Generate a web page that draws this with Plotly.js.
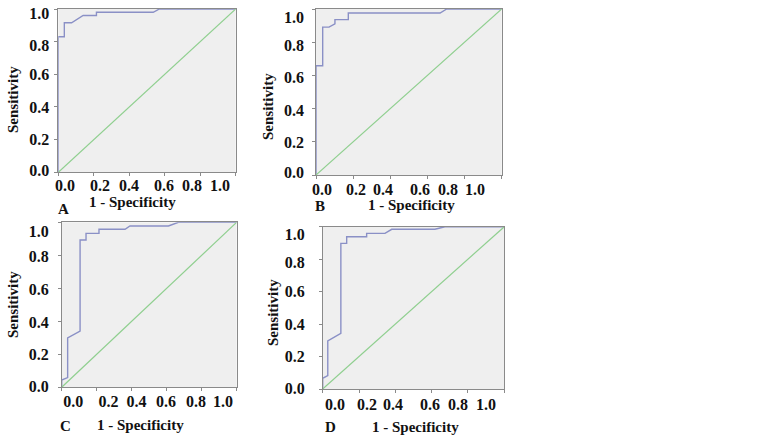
<!DOCTYPE html>
<html><head><meta charset="utf-8">
<script src="https://cdn.plot.ly/plotly-3.0.1.min.js"></script>
<style>html,body{margin:0;padding:0;background:#fff}#chart{width:763px;height:439px}</style>
</head><body><div id="chart"></div>
<script>
// ---- data ----
const tickLabels = ["0.0", "0.2", "0.4", "0.6", "0.8", "1.0"];
const tickValues = [0, 0.2, 0.4, 0.6, 0.8, 1.0];
const panelNames = ["A", "B", "C", "D"];
const xTitle = "1 - Specificity";
const yTitle = "Sensitivity";
const refX = [0, 1];
const refY = [0, 1];
const fprA = [0, 0, 0.034, 0.034, 0.075, 0.14, 0.215, 0.215, 0.535, 0.57, 1];
const tprA = [0, 0.83, 0.83, 0.916, 0.916, 0.96, 0.96, 0.98, 0.98, 1, 1];
const fprB = [0, 0, 0.036, 0.036, 0.07, 0.102, 0.102, 0.174, 0.174, 0.668, 0.704, 1];
const tprB = [0, 0.658, 0.658, 0.891, 0.891, 0.911, 0.936, 0.936, 0.976, 0.976, 1, 1];
const fprC = [0, 0, 0.034, 0.034, 0.105, 0.105, 0.139, 0.139, 0.213, 0.213, 0.362, 0.39, 0.61, 0.667, 1];
const tprC = [0, 0.044, 0.059, 0.30, 0.341, 0.893, 0.893, 0.933, 0.933, 0.958, 0.958, 0.978, 0.978, 1, 1];
const fprD = [0, 0, 0.028, 0.028, 0.1, 0.1, 0.132, 0.132, 0.242, 0.242, 0.343, 0.38, 0.618, 0.673, 1];
const tprD = [0, 0.066, 0.082, 0.296, 0.343, 0.897, 0.897, 0.938, 0.938, 0.959, 0.959, 0.984, 0.984, 1, 1];
const curves = [[fprA, tprA], [fprB, tprB], [fprC, tprC], [fprD, tprD]];

// ---- layout configuration (pixel geometry of the picture) ----
const W = 763, H = 439;
const boxes = [[58.3, 235.7, 9, 172.3], [316, 501.7, 9, 175], [61.7, 236.7, 222.3, 387.3], [322.7, 504.3, 226.7, 389]];
// where the printed tick labels sit along each axis (fraction of the axis), in label order 0.0 ... 1.0
const xLabelPos = [[0.038, 0.235, 0.398, 0.596, 0.754, 0.912], [0.032, 0.215, 0.361, 0.56, 0.711, 0.856],
                   [0.066, 0.267, 0.427, 0.596, 0.767, 0.922], [0.068, 0.244, 0.387, 0.591, 0.745, 0.899]];
const yLabelPos = [[0.014, 0.204, 0.40, 0.602, 0.78, 0.975], [0.018, 0.199, 0.392, 0.59, 0.783, 0.952],
                   [0.004, 0.202, 0.396, 0.596, 0.792, 0.943], [0.006, 0.199, 0.40, 0.6, 0.783, 0.955]];
const yStandoff = [8, 11, 12, 17];
const xStandoff = [2, 3, 3, 4];
const yTitlePos = [[13, 100], [268, 107], [13, 305], [273, 313]];
const xTitlePos = [[132, 202], [412, 205], [140, 425], [415, 427]];
const letterPos = [[63, 209], [320, 206], [65, 426], [330, 427]];

const FONT = {family: "Liberation Serif, Times New Roman, serif", size: 15, color: "#111", weight: "bold"};
const TICKFONT = {family: "Liberation Serif, Times New Roman, serif", size: 16, color: "#111", weight: "bold"};
const AXC = "#8a8a8a";

const traces = [];
const layout = {
  width: W, height: H, margin: {l: 0, r: 0, t: 0, b: 0},
  paper_bgcolor: "#ffffff", plot_bgcolor: "#efefef",
  showlegend: false, font: FONT, annotations: []
};
const px = v => v / W, py = v => 1 - v / H;

panelNames.forEach((name, i) => {
  const b = boxes[i];
  const xd = [px(b[0]), px(b[1])], yd = [py(b[3]), py(b[2])];
  const s = i === 0 ? "" : String(i + 1);
  const so = String(i + 5);
  layout["xaxis" + s] = {domain: xd, anchor: "y" + s, range: [0, 1], tickvals: tickValues, showticklabels: false,
    ticks: "outside", ticklen: 3, tickcolor: AXC, showline: true, mirror: true, linecolor: AXC, linewidth: 1,
    showgrid: false, zeroline: false, fixedrange: true};
  layout["yaxis" + s] = {domain: yd, anchor: "x" + s, range: [0, 1], tickvals: tickValues, showticklabels: false,
    ticks: "outside", ticklen: 3, tickcolor: AXC, showline: true, mirror: true, linecolor: AXC, linewidth: 1,
    showgrid: false, zeroline: false, fixedrange: true};
  layout["xaxis" + so] = {domain: xd, overlaying: "x" + s, anchor: "y" + so, side: "bottom", range: [0, 1],
    tickvals: xLabelPos[i], ticktext: tickLabels, ticks: "", ticklabelstandoff: xStandoff[i], tickfont: TICKFONT,
    showline: false, showgrid: false, zeroline: false, fixedrange: true};
  layout["yaxis" + so] = {domain: yd, overlaying: "y" + s, anchor: "x" + so, side: "left", range: [0, 1],
    tickvals: yLabelPos[i], ticktext: tickLabels, ticks: "", ticklabelstandoff: yStandoff[i], tickfont: TICKFONT,
    showline: false, showgrid: false, zeroline: false, fixedrange: true};
  traces.push({x: curves[i][0], y: curves[i][1], xaxis: "x" + s, yaxis: "y" + s, mode: "lines",
    line: {color: "#8a90c6", width: 1.4}, hoverinfo: "skip"});
  traces.push({x: refX, y: refY, xaxis: "x" + so, yaxis: "y" + so, mode: "lines",
    line: {color: "#8fcf8f", width: 1.2}, hoverinfo: "skip"});
  layout.annotations.push({text: yTitle, xref: "paper", yref: "paper", x: px(yTitlePos[i][0]), y: py(yTitlePos[i][1]),
    textangle: -90, showarrow: false, font: FONT, xanchor: "center", yanchor: "middle"});
  layout.annotations.push({text: xTitle, xref: "paper", yref: "paper", x: px(xTitlePos[i][0]), y: py(xTitlePos[i][1]),
    showarrow: false, font: FONT, xanchor: "center", yanchor: "middle"});
  layout.annotations.push({text: name, xref: "paper", yref: "paper", x: px(letterPos[i][0]), y: py(letterPos[i][1]),
    showarrow: false, font: FONT, xanchor: "center", yanchor: "middle"});
});

Plotly.newPlot("chart", traces, layout, {staticPlot: true, displayModeBar: false});
</script>
</body></html>
